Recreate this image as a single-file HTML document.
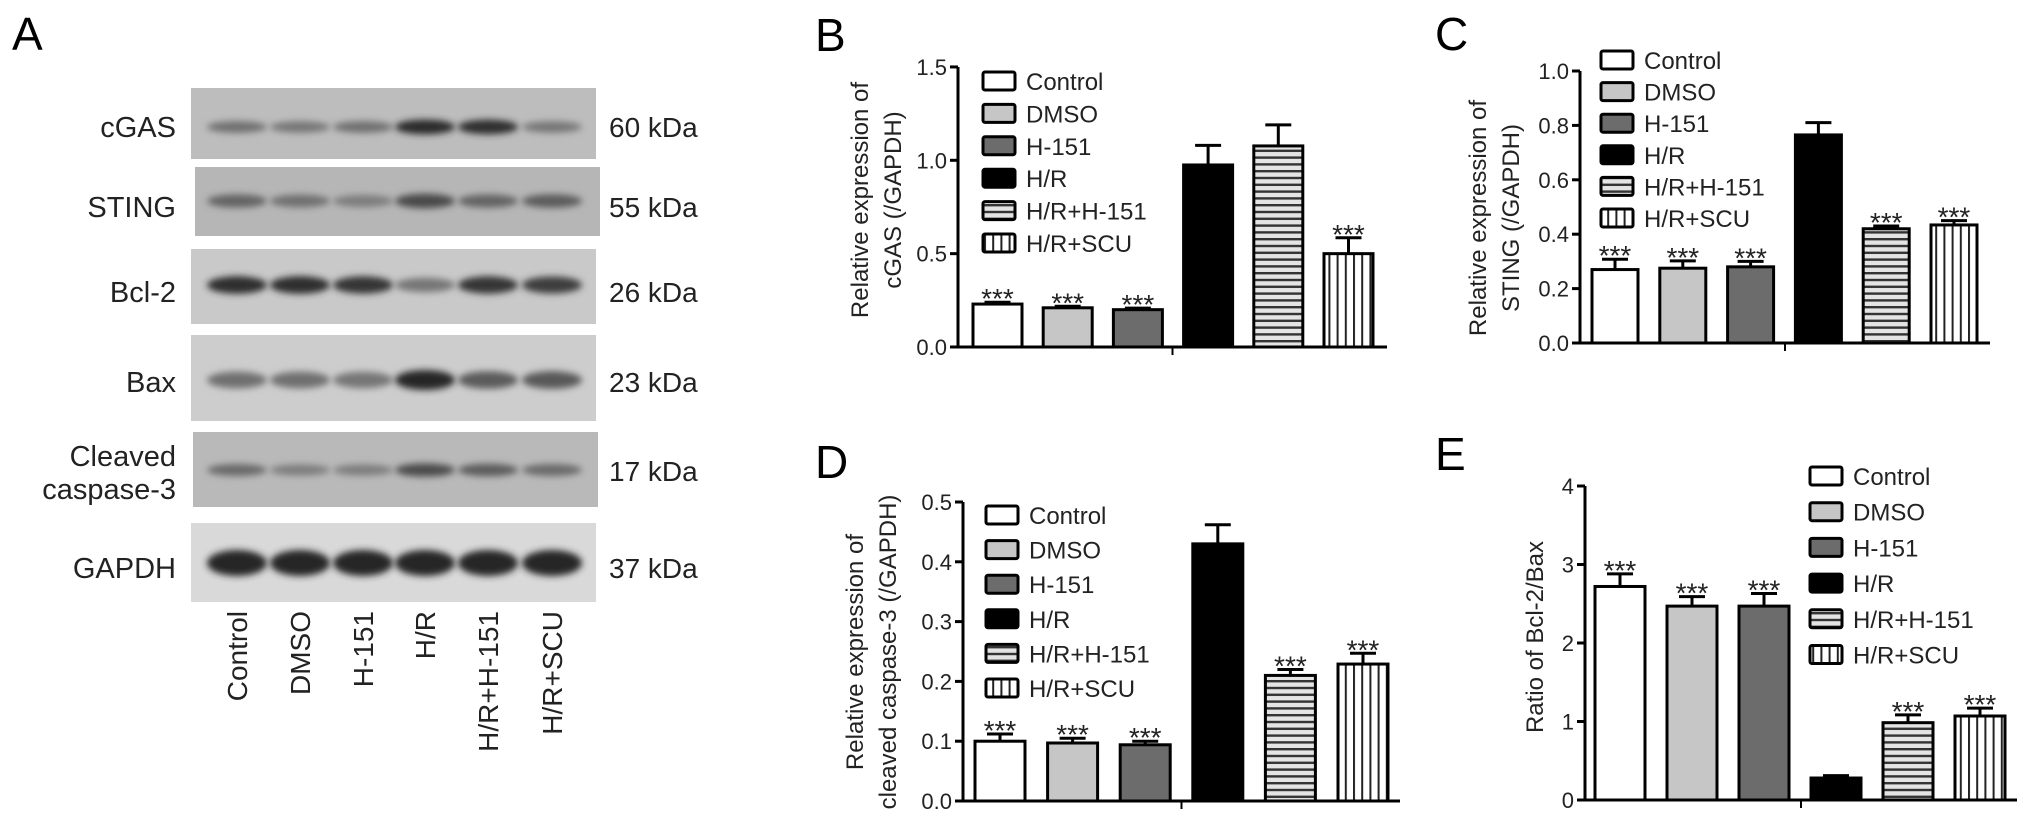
<!DOCTYPE html>
<html><head><meta charset="utf-8"><style>
html,body{margin:0;padding:0;background:#fff;}
svg{display:block;font-family:"Liberation Sans",Arial,sans-serif;}
</style></head><body>
<svg id="fig" width="2032" height="833" viewBox="0 0 2032 833" xmlns="http://www.w3.org/2000/svg">
<defs>
<pattern id="hstripe" patternUnits="userSpaceOnUse" width="8" height="6.8"><rect width="8" height="6.8" fill="#e4e4e4"/><rect y="0" width="8" height="2.4" fill="#333"/></pattern>
<pattern id="vstripe" patternUnits="userSpaceOnUse" width="8.2" height="8"><rect width="8.2" height="8" fill="#fff"/><rect x="0" width="2" height="8" fill="#222"/></pattern>
<filter id="blur4" x="-50%" y="-100%" width="200%" height="300%"><feGaussianBlur stdDeviation="3.5"/></filter>
<filter id="blur1"><feGaussianBlur stdDeviation="1.2"/></filter>
</defs>
<g id="panelA"></g>
<g id="charts"></g>
</svg>
<script>
const NS = "http://www.w3.org/2000/svg";
const svg = document.getElementById('fig');

// ---------- shared categories ----------
const categories = ["Control", "DMSO", "H-151", "H/R", "H/R+H-151", "H/R+SCU"];
const fills = ["#ffffff", "#c6c6c6", "#6c6c6c", "#000000", "url(#hstripe)", "url(#vstripe)"];

// ---------- chart data ----------
const bValues = [0.23, 0.21, 0.20, 0.975, 1.077, 0.50];
const bErrors = [0.01, 0.008, 0.008, 0.105, 0.113, 0.085];
const bTicks = [0, 0.5, 1.0, 1.5];
const bStars = ["***", "***", "***", "", "", "***"];

const cValues = [0.27, 0.275, 0.28, 0.765, 0.42, 0.434];
const cErrors = [0.038, 0.027, 0.02, 0.045, 0.01, 0.016];
const cTicks = [0, 0.2, 0.4, 0.6, 0.8, 1.0];
const cStars = ["***", "***", "***", "", "***", "***"];

const dValues = [0.10, 0.097, 0.094, 0.43, 0.21, 0.229];
const dErrors = [0.012, 0.008, 0.006, 0.032, 0.01, 0.018];
const dTicks = [0, 0.1, 0.2, 0.3, 0.4, 0.5];
const dStars = ["***", "***", "***", "", "***", "***"];

const eValues = [2.72, 2.47, 2.47, 0.28, 0.985, 1.07];
const eErrors = [0.16, 0.12, 0.16, 0.03, 0.1, 0.1];
const eTicks = [0, 1, 2, 3, 4];
const eStars = ["***", "***", "***", "", "***", "***"];

function mk(tag, attrs, parent) {
  const e = document.createElementNS(NS, tag);
  for (const k in attrs) e.setAttribute(k, attrs[k]);
  (parent || svg).appendChild(e);
  return e;
}
function txt(str, attrs, parent) { const t = mk('text', attrs, parent); t.textContent = str; return t; }

// ---------- Panel A: western blots ----------
const A = document.getElementById('panelA');
const aLetter = txt("A", {x: 12, y: 50, 'font-size': 46}, A);



const blotNames = ["cGAS", "STING", "Bcl-2", "Bax", "Cleaved caspase-3", "GAPDH"];
const blotKda = ["60 kDa", "55 kDa", "26 kDa", "23 kDa", "17 kDa", "37 kDa"];
const blotTop = [88, 167, 249, 335, 432, 523];
const blotBot = [159, 236, 324, 421, 507, 602];
const blotLeft = [191, 195, 191, 191, 193, 191];
const blotBg = ["#bdbdbd", "#b6b6b6", "#c9c9c9", "#cdcdcd", "#b9b9b9", "#d9d9d9"];
const bandY = [127, 201, 285, 380, 470, 563];
const bandH = [9, 10, 12, 14, 9, 20];
const bandIntensity = [
  [0.45, 0.4, 0.45, 0.97, 0.95, 0.4],
  [0.55, 0.45, 0.35, 0.75, 0.55, 0.6],
  [0.95, 0.95, 0.9, 0.4, 0.9, 0.85],
  [0.45, 0.45, 0.4, 1.0, 0.6, 0.62],
  [0.5, 0.35, 0.35, 0.72, 0.6, 0.5],
  [1, 1, 1, 1, 1, 1]
];
const laneX = [237, 300, 363, 425, 488, 552];
const labelY = [126, 206, 291, 381, 0, 567];

blotNames.forEach((nm, i) => {
  const g = mk('g', {}, A);
  
  
  mk('rect', {x: blotLeft[i], y: blotTop[i], width: 405, height: blotBot[i] - blotTop[i], fill: blotBg[i]}, g);
  bandIntensity[i].forEach((v, j) => {
    const gray = Math.round(40 + (1 - v) * 130);
    const b = mk('ellipse', {cx: laneX[j], cy: bandY[i], rx: 30, ry: bandH[i] / 2 + v * 3, fill: `rgb(${gray},${gray},${gray})`, filter: 'url(#blur4)'}, g);
    
    
  });
  if (i === 4) {
    const l1 = txt("Cleaved", {x: 176, y: 466, 'font-size': 29, 'text-anchor': 'end', fill: '#222'}, A);
    
    
    const l2 = txt("caspase-3", {x: 176, y: 499, 'font-size': 29, 'text-anchor': 'end', fill: '#222'}, A);
    
    
  } else {
    const l = txt(nm, {x: 176, y: labelY[i] + 11, 'font-size': 29, 'text-anchor': 'end', fill: '#222'}, A);
    
    
  }
  const k = txt(blotKda[i], {x: 609, y: (i === 4 ? 470 : labelY[i]) + 11, 'font-size': 28, fill: '#222'}, A);
  
  
});
categories.forEach((c, j) => {
  const t = txt(c, {x: 0, y: 0, 'font-size': 28, 'text-anchor': 'end', fill: '#222',
    transform: `translate(${laneX[j] + 10},611) rotate(-90)`}, A);
  
  
});

// ---------- bar chart panels ----------
function drawPanel(cfg, values, errors, ticks, stars) {
  const g = mk('g', {}, document.getElementById('charts'));
  
  
  const yS = v => cfg.y0 - v * cfg.ppu;

  const letter = txt(cfg.letter, {x: cfg.letterX, y: cfg.letterY, 'font-size': 46}, g);
  
  

  const yt = txt("", {x: 0, y: 0, 'font-size': 24, 'text-anchor': 'middle', fill: '#222',
    transform: `translate(${cfg.titleX},${cfg.titleY}) rotate(-90)`}, g);
  
  
  cfg.title.forEach((line, i) => {
    const ts = mk('tspan', {x: 0, dy: i === 0 ? 0 : 33}, yt);
    ts.textContent = line;
  });

  values.forEach((v, i) => {
    const x = cfg.barLeft + i * cfg.pitch;
    const cx = x + cfg.bw / 2;
    const top = yS(v), errTop = yS(v + errors[i]);
    const eb = mk('line', {x1: cx, x2: cx, y1: top, y2: errTop, stroke: '#000', 'stroke-width': 3}, g);
    
    
    const cap = mk('line', {x1: cx - 13, x2: cx + 13, y1: errTop, y2: errTop, stroke: '#000', 'stroke-width': 3}, g);
    
    
    const r = mk('rect', {x: x, y: top, width: cfg.bw, height: cfg.y0 - top, fill: fills[i], stroke: '#000', 'stroke-width': 3}, g);
    
    
    if (stars[i]) {
      const s = txt(stars[i], {x: cx, y: errTop + 6, 'font-size': 28, 'text-anchor': 'middle', fill: '#222'}, g);
      
      
    }
  });

  const ya = mk('line', {x1: cfg.axisX, x2: cfg.axisX, y1: yS(ticks[ticks.length - 1]), y2: cfg.y0 + 1.5, stroke: '#000', 'stroke-width': 3}, g);
  
  
  const xa = mk('line', {x1: cfg.axisX - 8, x2: cfg.axisEnd, y1: cfg.y0, y2: cfg.y0, stroke: '#000', 'stroke-width': 3}, g);
  
  
  const mid = (cfg.axisX + cfg.axisEnd) / 2;
  const mt = mk('line', {x1: mid, x2: mid, y1: cfg.y0, y2: cfg.y0 + 8, stroke: '#000', 'stroke-width': 2}, g);
  
  
  ticks.forEach(t => {
    const y = yS(t);
    const tk = mk('line', {x1: cfg.axisX - 8, x2: cfg.axisX, y1: y, y2: y, stroke: '#000', 'stroke-width': 3}, g);
    
    
    const tl = txt(t.toFixed(cfg.dec), {x: cfg.axisX - 11, y: y + 8, 'font-size': 22, 'text-anchor': 'end', fill: '#222'}, g);
    
    
  });

  categories.forEach((c, i) => {
    const y = cfg.legY + i * cfg.legStep;
    const lg = mk('g', {}, g);
    
    
    mk('rect', {x: cfg.legX, y: y - 9, width: 32, height: 18, rx: 2, fill: fills[i], stroke: '#000', 'stroke-width': 3}, lg);
    txt(c, {x: cfg.legX + 43, y: y + 9, 'font-size': 24, fill: '#222'}, lg);
  });
}

drawPanel({name: 'chart-cgas', letter: 'B', letterX: 815, letterY: 51, title: ["Relative expression of", "cGAS (/GAPDH)"],
  titleX: 868, titleY: 200, axisX: 958, y0: 347, ppu: 186.7, dec: 1, barLeft: 973, pitch: 70.2, bw: 49, axisEnd: 1387,
  legX: 983, legY: 81, legStep: 32.4}, bValues, bErrors, bTicks, bStars);
drawPanel({name: 'chart-sting', letter: 'C', letterX: 1435, letterY: 50, title: ["Relative expression of", "STING (/GAPDH)"],
  titleX: 1486, titleY: 218, axisX: 1580, y0: 343, ppu: 272, dec: 1, barLeft: 1592, pitch: 67.8, bw: 46, axisEnd: 1990,
  legX: 1601, legY: 60, legStep: 31.6}, cValues, cErrors, cTicks, cStars);
drawPanel({name: 'chart-cleaved-caspase-3', letter: 'D', letterX: 815, letterY: 478, title: ["Relative expression of", "cleaved caspase-3 (/GAPDH)"],
  titleX: 863, titleY: 652, axisX: 963, y0: 801, ppu: 598, dec: 1, barLeft: 975, pitch: 72.6, bw: 50, axisEnd: 1400,
  legX: 986, legY: 515, legStep: 34.6}, dValues, dErrors, dTicks, dStars);
drawPanel({name: 'chart-bcl2-bax-ratio', letter: 'E', letterX: 1435, letterY: 470, title: ["Ratio of Bcl-2/Bax"],
  titleX: 1543, titleY: 637, axisX: 1585, y0: 800, ppu: 78.5, dec: 0, barLeft: 1595, pitch: 72, bw: 50, axisEnd: 2017,
  legX: 1810, legY: 476, legStep: 35.7}, eValues, eErrors, eTicks, eStars);
</script>
</body></html>
